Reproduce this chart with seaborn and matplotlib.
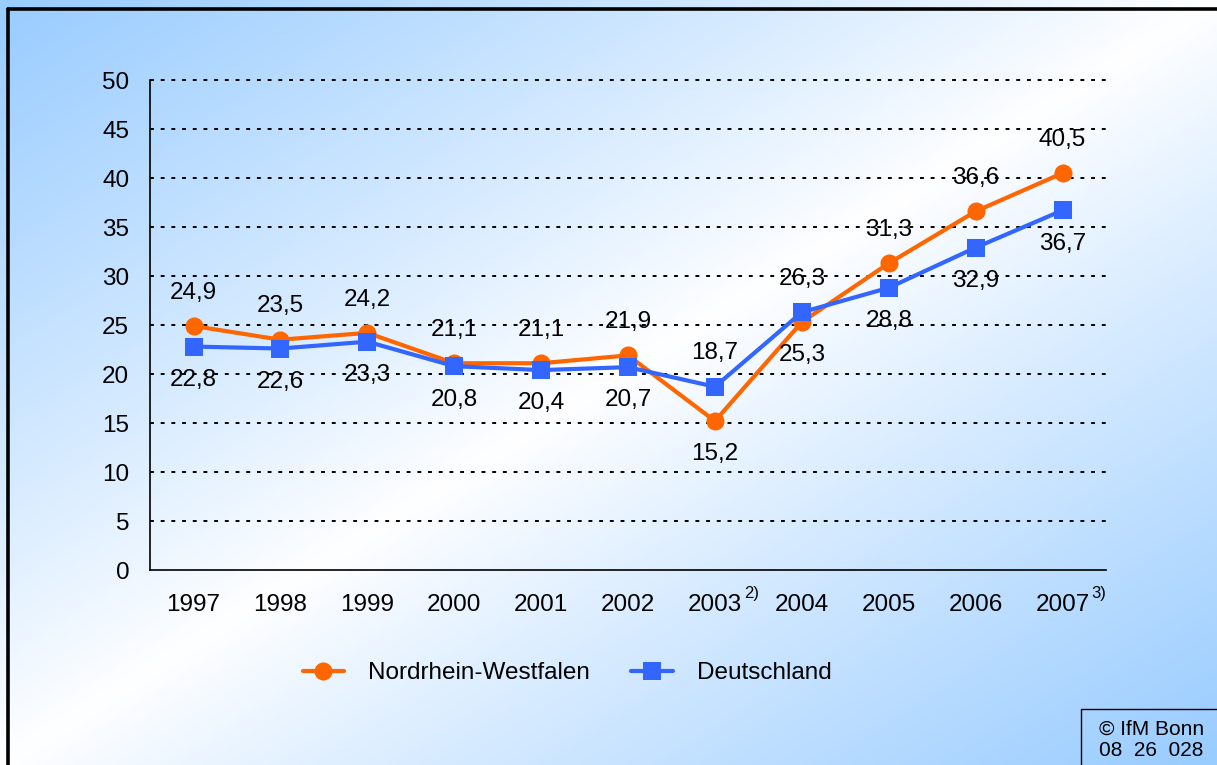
import numpy as np
import pandas as pd
import matplotlib
matplotlib.use("Agg")
import matplotlib.pyplot as plt
from matplotlib.colors import LinearSegmentedColormap
from matplotlib.lines import Line2D
from matplotlib.patches import Rectangle
import seaborn as sns

# data
years = ["1997", "1998", "1999", "2000", "2001", "2002", "2003", "2004", "2005", "2006", "2007"]
nrw = [24.9, 23.5, 24.2, 21.1, 21.1, 21.9, 15.2, 25.3, 31.3, 36.6, 40.5]
de = [22.8, 22.6, 23.3, 20.8, 20.4, 20.7, 18.7, 26.3, 28.8, 32.9, 36.7]
# label placement: +1 above the point, -1 below
nrw_side = [1, 1, 1, 1, 1, 1, -1, -1, 1, 1, 1]
de_side = [-1, -1, -1, -1, -1, -1, 1, 1, -1, -1, -1]
footnotes = {"2003": "2)", "2007": "3)"}

orange = "#FF6600"
blue = "#3366FF"
fs = 17.5

sns.set_style("white")
plt.rcParams["font.family"] = ["Liberation Sans", "DejaVu Sans"]
plt.rcParams["text.color"] = "black"
plt.rcParams["xtick.color"] = "black"
plt.rcParams["ytick.color"] = "black"

df = pd.DataFrame({
    "pos": list(range(len(years))) * 2,
    "value": nrw + de,
    "region": ["Nordrhein-Westfalen"] * len(years) + ["Deutschland"] * len(years),
})

fig = plt.figure(figsize=(12.17, 7.65), dpi=100)

# diagonal blue-white-blue background
bg = fig.add_axes([0, 0, 1, 1], zorder=-10)
gx, gy = np.meshgrid(np.linspace(0, 1, 400), np.linspace(0, 1, 300))
t = np.abs((gx + gy) / 2 - 0.5) * 2
t = t ** 0.9
cmap = LinearSegmentedColormap.from_list("bg", ["#FFFFFF", "#99CCFF"])
bg.imshow(t, cmap=cmap, aspect="auto", extent=[0, 1, 0, 1], origin="upper", vmin=0, vmax=1)
bg.axis("off")

ax = fig.add_axes([0.1233, 0.2549, 0.7855, 0.6405])
ax.patch.set_alpha(0)

# dotted horizontal grid (drawn unclipped so the top line is full width)
for yv in range(5, 51, 5):
    ax.axhline(yv, color="black", linestyle=(0, (2, 3.5)), linewidth=1.4,
               clip_on=False, zorder=1)

sns.lineplot(data=df, x="pos", y="value", hue="region", style="region",
             palette={"Nordrhein-Westfalen": orange, "Deutschland": blue},
             markers={"Nordrhein-Westfalen": "o", "Deutschland": "s"},
             dashes=False, linewidth=3, markersize=13, markeredgewidth=0,
             legend=False, ax=ax, zorder=3)

for vals, sides in [(nrw, nrw_side), (de, de_side)]:
    for i, (v, s) in enumerate(zip(vals, sides)):
        ax.annotate(f"{v:.1f}".replace(".", ","), xy=(i, v), xytext=(0, 24 * s),
                    textcoords="offset points", ha="center", va="center",
                    fontsize=fs, color="black", zorder=5)

ax.set_xlim(-0.5, len(years) - 0.5)
ax.set_ylim(0, 50)
ax.set_yticks(range(0, 51, 5))
ax.set_xticks(range(len(years)))
ax.set_xticklabels(years)
ax.set_xticks(np.arange(-0.5, len(years), 1), minor=True)
ax.tick_params(axis="x", which="major", length=0, pad=17, labelsize=fs)
ax.tick_params(axis="x", which="minor", length=6, width=1.2, direction="out", color="black")
ax.tick_params(axis="y", length=6, width=1.2, direction="out", color="black", pad=9, labelsize=fs)
ax.set_xlabel("")
ax.set_ylabel("")
ax.grid(False)
for side in ["top", "right"]:
    ax.spines[side].set_visible(False)
for side in ["left", "bottom"]:
    ax.spines[side].set_color("black")
    ax.spines[side].set_linewidth(1.2)
    ax.spines[side].set_zorder(2)

for i, y in enumerate(years):
    if y in footnotes:
        ax.annotate(footnotes[y], xy=(i, 0), xycoords=("data", "axes fraction"),
                    xytext=(21, -17), textcoords="offset points", ha="left", va="center",
                    fontsize=12)

handles = [
    Line2D([], [], color=orange, marker="o", linewidth=3, markersize=13, markeredgewidth=0),
    Line2D([], [], color=blue, marker="s", linewidth=3, markersize=13, markeredgewidth=0),
]
fig.legend(handles, ["Nordrhein-Westfalen", "Deutschland"], loc="center",
           bbox_to_anchor=(0.466, 0.12), ncol=2, frameon=False, fontsize=fs,
           handlelength=1.7, handletextpad=1.0, columnspacing=1.7)

# frame lines at top and left edges
fig.add_artist(Line2D([0.0062, 1.0], [0.9876, 0.9876], color="black", linewidth=2.6,
                      transform=fig.transFigure))
fig.add_artist(Line2D([0.0062, 0.0062], [0.0, 0.9876], color="black", linewidth=2.6,
                      transform=fig.transFigure))

# copyright box
fig.add_artist(Rectangle((0.888, -0.01), 0.2, 0.0832, fill=False, edgecolor="black",
                         linewidth=1, transform=fig.transFigure))
fig.text(0.903, 0.033, "© IfM Bonn\n08  26  028", ha="left", va="center",
         fontsize=15, linespacing=1.15)

fig.savefig("out.png", dpi=100)
